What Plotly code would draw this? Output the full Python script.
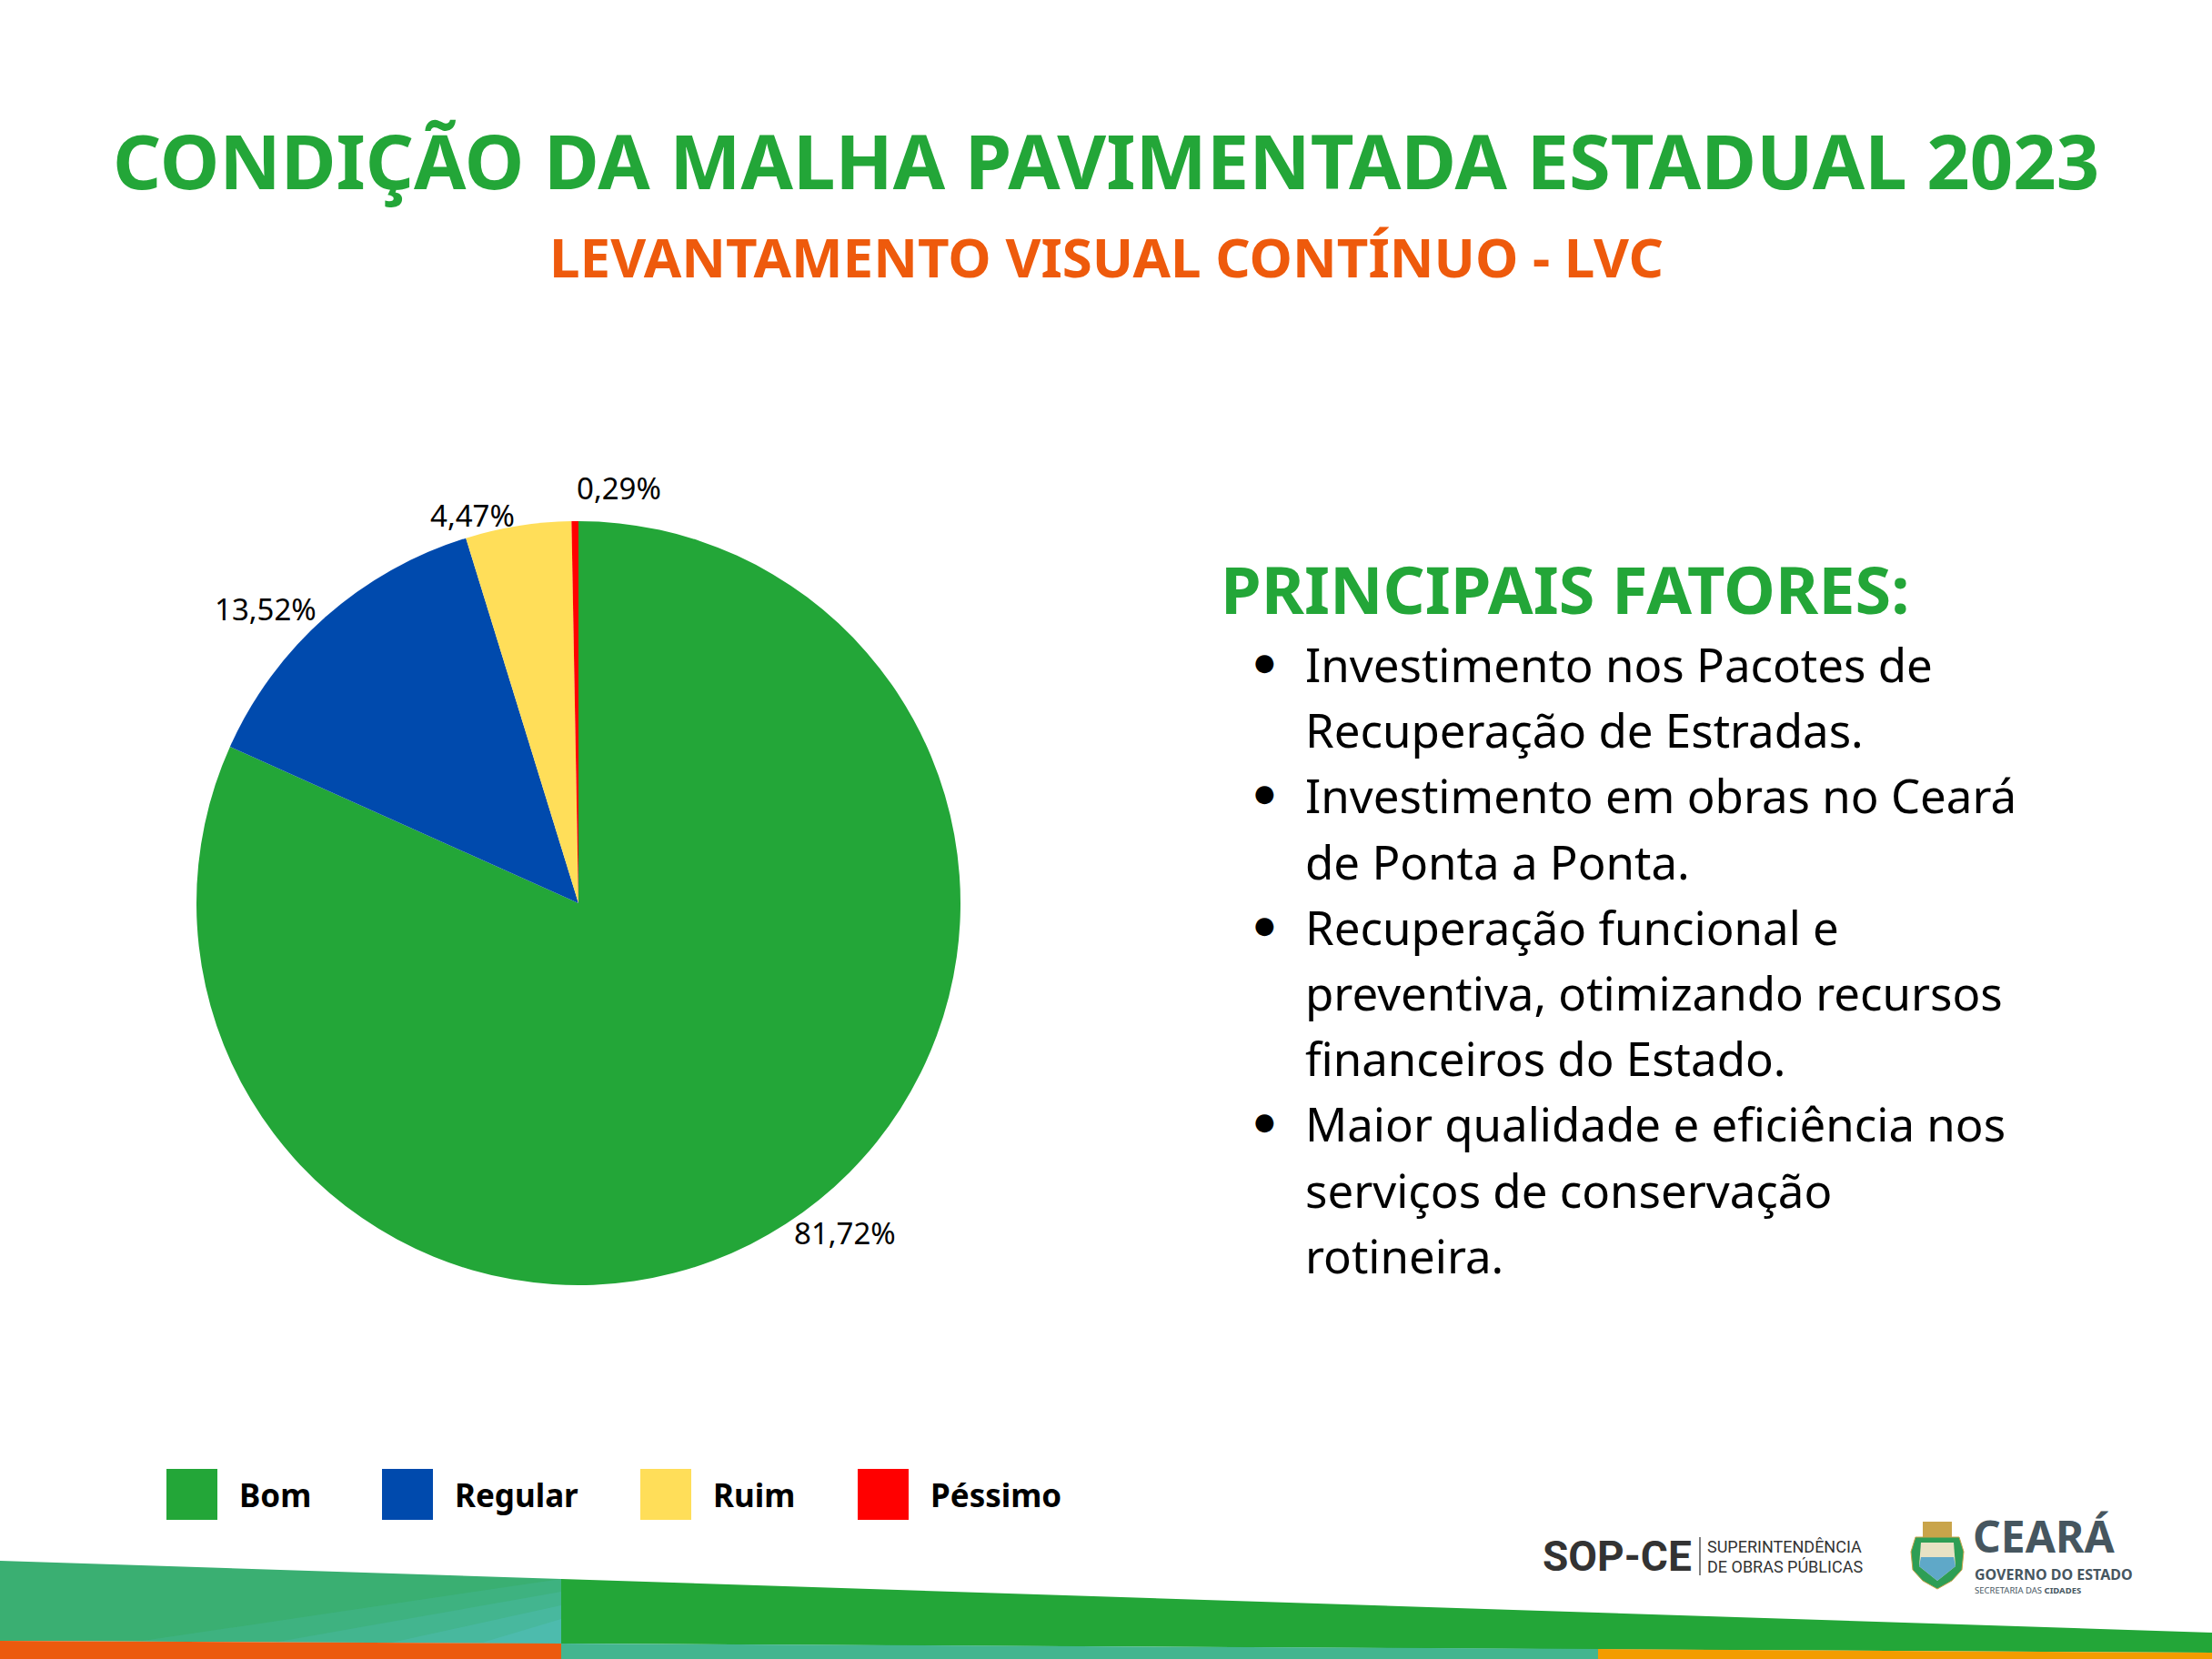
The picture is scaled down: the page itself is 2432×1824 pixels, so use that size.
import math
import plotly.graph_objects as go

W, H = 2432, 1824

# chart data
categories = ['Bom', 'Regular', 'Ruim', 'Péssimo']
shares = [81.72, 13.52, 4.47, 0.29]
colors = ['#23A638', '#004AAD', '#FFDE59', '#FF0000']

title_text = 'CONDIÇÃO DA MALHA PAVIMENTADA ESTADUAL 2023'
subtitle_text = 'LEVANTAMENTO VISUAL CONTÍNUO - LVC'
factors_title = 'PRINCIPAIS FATORES:'
factors = [
    ['Investimento nos Pacotes de', 'Recuperação de Estradas.'],
    ['Investimento em obras no Ceará', 'de Ponta a Ponta.'],
    ['Recuperação funcional e', 'preventiva, otimizando recursos', 'financeiros do Estado.'],
    ['Maior qualidade e eficiência nos', 'serviços de conservação', 'rotineira.'],
]

GREEN = '#23A638'
ORANGE = '#EE5A0C'
SLATE = '#46565F'
FONT = 'Noto Sans'


def px(x):
    return x / W


def py(y):
    return 1 - y / H


def poly(points):
    return 'M ' + ' L '.join(f'{px(x):.5f},{py(y):.5f}' for x, y in points) + ' Z'


labels_txt = [f'{v:.2f}%'.replace('.', ',') for v in shares]

# pie centre / radius in pixels
cx, cy, R = 636, 993, 420

fig = go.Figure(go.Pie(
    labels=categories,
    values=shares,
    marker=dict(colors=colors, line=dict(width=0)),
    sort=False,
    direction='clockwise',
    rotation=0,
    text=labels_txt,
    textinfo='none',
    hoverinfo='label+text',
    showlegend=False,
    domain=dict(x=[px(cx - R), px(cx + R)], y=[py(cy + R), py(cy - R)]),
))

annotations = []
shapes = []

# percentage labels outside the slices, placed at each slice's mid angle
total = sum(shares)
cum = 0
for v, t in zip(shares, labels_txt):
    mid = (cum + v / 2) / total * 2 * math.pi
    cum += v
    dx, dy = math.sin(mid), -math.cos(mid)
    lx, ly = cx + dx * (R + 12), cy + dy * (R + 12)
    xa = 'left' if dx > -0.02 else 'right'
    ya = 'bottom' if dy < -0.995 else 'middle'
    annotations.append(dict(text=t, x=px(lx), y=py(ly), xref='paper', yref='paper', showarrow=False,
                            font=dict(family=FONT, size=33, color='#000000'), xanchor=xa, yanchor=ya))

# titles
annotations.append(dict(text=f'<b>{title_text}</b>', x=0.5, y=py(175), xref='paper', yref='paper',
                        showarrow=False, font=dict(family=FONT, size=83, color=GREEN),
                        xanchor='center', yanchor='middle'))
annotations.append(dict(text=f'<b>{subtitle_text}</b>', x=0.5, y=py(282), xref='paper', yref='paper',
                        showarrow=False, font=dict(family=FONT, size=60, color=ORANGE),
                        xanchor='center', yanchor='middle'))

# right side text block
annotations.append(dict(text=f'<b>{factors_title}</b>', x=px(1340), y=py(647), xref='paper', yref='paper',
                        showarrow=False, font=dict(family=FONT, size=72, color=GREEN),
                        xanchor='left', yanchor='middle'))
line_y = 730
for item in factors:
    annotations.append(dict(text='●', x=px(1390), y=py(line_y - 2), xref='paper', yref='paper',
                            showarrow=False, font=dict(family='DejaVu Sans', size=26, color='#000000'),
                            xanchor='center', yanchor='middle'))
    for line in item:
        annotations.append(dict(text=line, x=px(1433), y=py(line_y), xref='paper', yref='paper',
                                showarrow=False, font=dict(family=FONT, size=51, color='#000000'),
                                xanchor='left', yanchor='middle'))
        line_y += 72.2

# legend
leg_x = [183, 420, 704, 943]
for name, col, lx in zip(categories, colors, leg_x):
    shapes.append(dict(type='rect', xref='paper', yref='paper', x0=px(lx), x1=px(lx + 56),
                       y0=py(1671), y1=py(1615), fillcolor=col, line=dict(width=0)))
    annotations.append(dict(text=f'<b>{name}</b>', x=px(lx + 78), y=py(1643), xref='paper', yref='paper',
                            showarrow=False, font=dict(family=FONT, size=35, color='#000000'),
                            xanchor='left', yanchor='middle'))

# bottom decorative stripes
stripes = [
    ([(0, 1716), (617, 1736), (617, 1807), (0, 1804)], '#3AAF72', 1),
    ([(617, 1736), (617, 1807), (150, 1805)], '#55C0C4', 0.18),
    ([(617, 1750), (617, 1807), (300, 1806)], '#55C0C4', 0.22),
    ([(617, 1765), (617, 1807), (430, 1806)], '#55C0C4', 0.3),
    ([(617, 1780), (617, 1807), (530, 1806)], '#55C0C4', 0.4),
    ([(617, 1736), (2432, 1795), (2432, 1817), (617, 1807)], '#23A638', 1),
    ([(0, 1804), (617, 1807), (617, 1824), (0, 1824)], '#EC5A0E', 1),
    ([(617, 1807), (1757, 1813), (1757, 1824), (617, 1824)], '#43B58F', 1),
    ([(1757, 1813), (2432, 1817), (2432, 1824), (1757, 1824)], '#F39C00', 1),
]
for pts, col, op in stripes:
    shapes.append(dict(type='path', path=poly(pts), xref='paper', yref='paper',
                       fillcolor=col, opacity=op, line=dict(width=0), layer='above'))

# logos (text versions)
annotations.append(dict(text='<b>SOP-CE</b>', x=px(1862), y=py(1711), xref='paper', yref='paper',
                        showarrow=False, font=dict(family='Roboto', size=46, color='#333333'),
                        xanchor='right', yanchor='middle'))
shapes.append(dict(type='line', xref='paper', yref='paper', x0=px(1869), x1=px(1869),
                   y0=py(1690), y1=py(1732), line=dict(color='#555555', width=1.5)))
annotations.append(dict(text='SUPERINTENDÊNCIA', x=px(1876), y=py(1700), xref='paper', yref='paper',
                        showarrow=False, font=dict(family='Roboto', size=18, color='#333333'),
                        xanchor='left', yanchor='middle', borderpad=0))
annotations.append(dict(text='DE OBRAS PÚBLICAS', x=px(1876), y=py(1722), xref='paper', yref='paper',
                        showarrow=False, font=dict(family='Roboto', size=18, color='#333333'),
                        xanchor='left', yanchor='middle', borderpad=0))

# shield emblem
shapes.append(dict(type='path', xref='paper', yref='paper', layer='above',
                   path=poly([(2106, 1690), (2154, 1690), (2159, 1706), (2157, 1726), (2146, 1738),
                              (2130, 1747), (2114, 1738), (2103, 1726), (2101, 1706)]),
                   fillcolor='#2E9E55', line=dict(color='#C9A44A', width=1)))
shapes.append(dict(type='path', xref='paper', yref='paper', layer='above',
                   path=poly([(2112, 1696), (2148, 1696), (2150, 1722), (2130, 1738), (2110, 1722)]),
                   fillcolor='#E8E2C4', line=dict(width=0)))
shapes.append(dict(type='path', xref='paper', yref='paper', layer='above',
                   path=poly([(2112, 1712), (2148, 1712), (2150, 1722), (2130, 1738), (2110, 1722)]),
                   fillcolor='#5FA8C8', line=dict(width=0)))
shapes.append(dict(type='rect', xref='paper', yref='paper', x0=px(2114), x1=px(2146),
                   y0=py(1690), y1=py(1673), fillcolor='#C9A44A', line=dict(width=0)))
annotations.append(dict(text='<b>CEARÁ</b>', x=px(2168), y=py(1688), xref='paper', yref='paper',
                        showarrow=False, font=dict(family=FONT, size=48, color=SLATE),
                        xanchor='left', yanchor='middle', borderpad=0))
annotations.append(dict(text='<b>GOVERNO DO ESTADO</b>', x=px(2170), y=py(1731), xref='paper', yref='paper',
                        showarrow=False, font=dict(family=FONT, size=16, color=SLATE),
                        xanchor='left', yanchor='middle', borderpad=0))
annotations.append(dict(text='SECRETARIA DAS <b>CIDADES</b>', x=px(2170), y=py(1748), xref='paper', yref='paper',
                        showarrow=False, font=dict(family=FONT, size=9.5, color=SLATE),
                        xanchor='left', yanchor='middle', borderpad=0))

fig.update_layout(
    width=W, height=H,
    margin=dict(l=0, r=0, t=0, b=0),
    paper_bgcolor='white',
    plot_bgcolor='white',
    font=dict(family=FONT),
    annotations=annotations,
    shapes=shapes,
)

fig.write_html('out.html', config={'displayModeBar': False},
               post_script="document.body.style.margin='0';")
